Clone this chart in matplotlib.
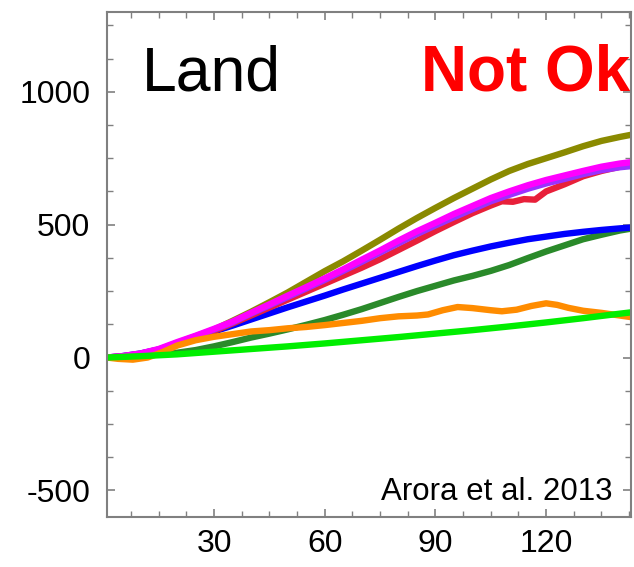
import numpy as np
import matplotlib.pyplot as plt
from matplotlib.ticker import MultipleLocator

plt.rcParams['font.family'] = ['Liberation Sans', 'DejaVu Sans']
plt.rcParams['axes.unicode_minus'] = False

# cumulative land uptake (year, value)
olive_t = [1, 5, 10, 15, 20, 25, 30, 35, 40, 45, 50, 55, 60, 65, 70, 75, 80, 85, 90, 95,
           100, 105, 110, 115, 120, 125, 130, 135, 140, 143]
olive_v = [0, 3, 12, 28, 50, 75, 105, 138, 172, 208, 245, 285, 325, 362, 402, 443, 485, 525,
           563, 600, 635, 670, 702, 728, 750, 772, 795, 815, 830, 838]

magenta_t = olive_t
magenta_v = [0, 5, 15, 32, 58, 82, 108, 135, 168, 200, 233, 265, 298, 332, 368, 403, 440, 475,
             507, 540, 570, 600, 625, 648, 668, 685, 702, 718, 730, 735]

purple_t = olive_t
purple_v = [0, 4, 14, 30, 55, 80, 105, 132, 165, 196, 228, 260, 292, 326, 360, 395, 430, 465,
            497, 528, 558, 588, 612, 635, 655, 672, 690, 705, 716, 720]

red_t = [1, 5, 10, 15, 20, 25, 30, 35, 40, 45, 50, 55, 60, 65, 70, 75, 80, 85, 90, 95,
         100, 105, 108, 111, 114, 117, 120, 125, 130, 135, 140, 143]
red_v = [0, 4, 13, 28, 50, 75, 100, 128, 158, 188, 218, 248, 278, 308, 338, 370, 405, 440,
         476, 510, 543, 572, 588, 586, 596, 594, 625, 652, 682, 702, 718, 726]

blue_t = olive_t
blue_v = [0, 5, 15, 30, 50, 75, 98, 120, 143, 166, 189, 211, 233, 256, 278, 300, 322, 344,
          365, 385, 402, 418, 432, 445, 455, 465, 473, 480, 486, 489]

dgreen_t = olive_t
dgreen_v = [0, 2, 6, 12, 18, 28, 42, 58, 75, 90, 106, 123, 141, 161, 182, 205, 228, 250,
            270, 290, 307, 326, 348, 374, 399, 422, 445, 462, 478, 485]

orange_t = [1, 4, 8, 12, 16, 20, 25, 30, 35, 40, 45, 50, 55, 60, 65, 70, 75, 80, 85, 88,
            92, 96, 100, 105, 108, 112, 116, 120, 123, 126, 130, 135, 140, 143]
orange_v = [0, -5, -8, 0, 20, 45, 65, 78, 88, 98, 103, 110, 115, 122, 130, 138, 148, 155,
            158, 162, 178, 190, 186, 178, 174, 180, 194, 204, 198, 187, 176, 168, 158, 152]

brown_t = [1, 20, 40, 60, 80, 100, 110, 120, 130, 140, 143]
brown_v = [0, 12, 32, 54, 79, 104, 115, 128, 145, 160, 165]

lime_t = [1, 10, 20, 30, 40, 50, 60, 70, 80, 90, 100, 110, 120, 130, 140, 143]
lime_v = [0, 5, 12, 22, 32, 42, 53, 65, 77, 90, 103, 117, 132, 148, 165, 170]

fig = plt.figure(figsize=(6.34, 5.67), dpi=100)
ax = fig.add_axes([0.1688, 0.0882, 0.8265, 0.8906])

lw = 4.6
ax.plot(dgreen_t, dgreen_v, color='#2a8a2a', lw=lw)
ax.plot(blue_t, blue_v, color='#0000ff', lw=lw)
ax.plot(olive_t, olive_v, color='#8a8a00', lw=lw)
ax.plot(red_t, red_v, color='#e8203a', lw=lw)
ax.plot(purple_t, purple_v, color='#9b30ff', lw=lw)
ax.plot(magenta_t, magenta_v, color='#ff00ff', lw=lw)
ax.plot(orange_t, orange_v, color='#ff8c00', lw=lw)
ax.plot(brown_t, brown_v, color='#8b5a2b', lw=1.2)
ax.plot(lime_t, lime_v, color='#00ee00', lw=lw)

ax.set_xlim(1, 143)
ax.set_ylim(-600, 1300)
ax.xaxis.set_major_locator(MultipleLocator(30))
ax.xaxis.set_minor_locator(MultipleLocator(7.5))
ax.yaxis.set_major_locator(MultipleLocator(500))
ax.yaxis.set_minor_locator(MultipleLocator(125))
ax.tick_params(which='both', direction='in', top=True, right=True, color='#808080',
               labelsize=23)
ax.tick_params(which='major', length=6, width=1.2)
ax.tick_params(which='minor', length=4, width=1.0)
ax.tick_params(axis='y', pad=12)
ax.tick_params(axis='x', pad=9)
for s in ax.spines.values():
    s.set_color('#808080')
    s.set_linewidth(1.5)

ax.text(0.066, 0.845, 'Land', transform=ax.transAxes, fontsize=45, color='black')
ax.text(0.6, 0.845, 'Not Ok', transform=ax.transAxes, fontsize=46, color='red',
        fontweight='bold')
ax.text(0.964, 0.033, 'Arora et al. 2013', transform=ax.transAxes, fontsize=22.5,
        ha='right', va='baseline')

fig.savefig('out.png', dpi=100)
